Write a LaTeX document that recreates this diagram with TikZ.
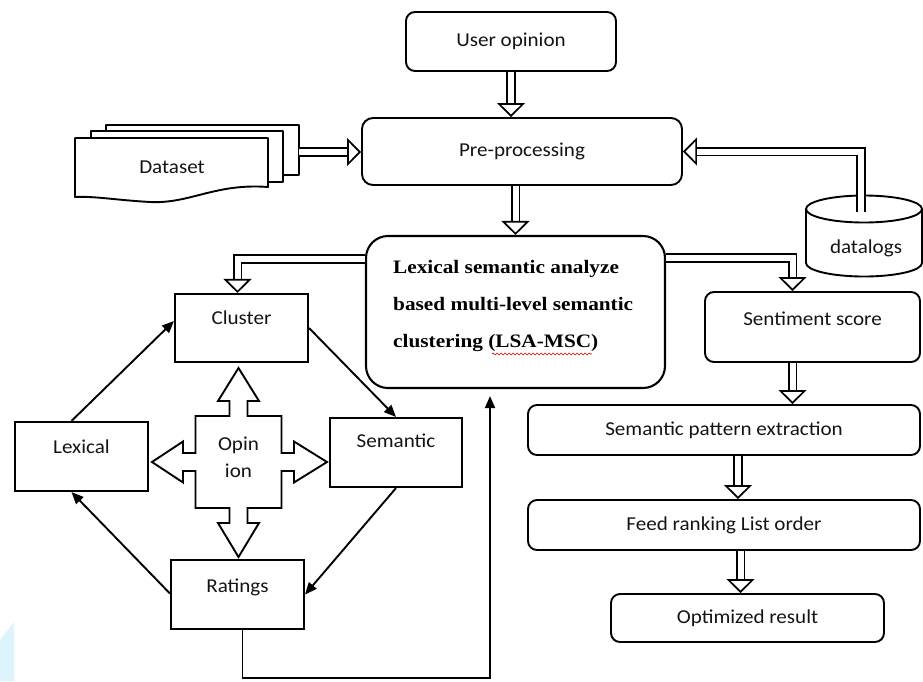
\documentclass[tikz,border=0pt]{standalone}
\usepackage{fontspec}
\setmainfont{Carlito}[FakeStretch=1.07]
\newfontfamily\lsafont{Liberation Serif}[FakeStretch=1.12]
\usetikzlibrary{arrows.meta,calc,decorations.pathmorphing}
\definecolor{wmblue}{RGB}{220,244,250}
\newcommand\rs[2]{\raisebox{#1}[0pt][0pt]{#2}}
\begin{document}
\begin{tikzpicture}[x=1pt,y=-1pt,
  every node/.style={font=\fontsize{19.7}{24}\selectfont, text=black!92},
  rbox/.style={draw, line width=1.9pt, rounded corners=9pt, inner sep=0pt},
  rect/.style={draw, line width=2.1pt, inner sep=0pt},
  conn/.style={line width=1.9pt, -{Triangle[length=12pt,width=10pt]}},
  hollow/.style={draw, line width=1.7pt, double, double distance=6pt, line join=miter,
    -{Triangle[length=14pt,width=28pt,fill=white,line width=1.7pt]}},
  shapeline/.style={draw, line width=1.9pt, fill=white, line join=round},
]
\useasboundingbox (0,0) rectangle (923,681);
% watermark remnant
\fill[wmblue] (0,640) -- (14,622) -- (14,681) -- (0,681) -- cycle;

% top boxes
\node[rbox, minimum width=210pt, minimum height=59pt] (uo) at (511,41.5) {User opinion};
\node[rbox, minimum width=320pt, minimum height=67pt, rounded corners=11pt] (pre) at (522,151.5) {Pre-processing};

% dataset (multi-document)
\draw[shapeline] (106,125) -- (299,125) -- (299,175) -- (106,175) -- cycle;
\draw[shapeline] (91,131) -- (283,131) -- (283,182) -- (91,182) -- cycle;
\draw[shapeline] (75,138) -- (268,138) -- (268,187)
  .. controls (215,183) and (190,204) .. (150,202)
  .. controls (115,200) and (95,196) .. (75,197) -- cycle;
\node (ds) at (172,167) {Dataset};
\coordinate (dsr) at (299,152);

% datalogs cylinder
\draw[shapeline] (806,209) -- (806,263) arc[start angle=180, end angle=0, x radius=58, y radius=13.5] -- (922,209);
\draw[shapeline] (864,209) ellipse [x radius=58, y radius=13.5];
\node (dl) at (866,248) {datalogs};
\coordinate (dltop) at (861,212);

% central LSA-MSC box
\node[draw, line width=2.1pt, rounded corners=22pt, minimum width=299pt, minimum height=152pt] (lsa) at (515.5,312) {};
\node[anchor=north west, inner sep=0pt, align=left, text=black,
  font=\lsafont\bfseries\fontsize{19}{37}\selectfont] (lsatext) at (393,260.5)
  {Lexical semantic analyze\\based multi-level semantic\\clustering (LSA-MSC)};
\draw[red!80!black, line width=0.6pt, decorate, decoration={snake, amplitude=1pt, segment length=4pt}] (492,354) -- (592,354);

% left cycle boxes
\node[rect, minimum width=133pt, minimum height=68pt] (cl) at (241.5,328) {\rs{3.5pt}{Cluster}};
\node[rect, minimum width=133pt, minimum height=69pt] (lex) at (81.5,456.5) {\rs{3.5pt}{Lexical}};
\node[rect, minimum width=132pt, minimum height=69pt] (sem) at (396,452.5) {\rs{5pt}{Semantic}};
\node[rect, minimum width=133pt, minimum height=69pt] (rat) at (237.5,594.5) {\rs{2.5pt}{Ratings}};

% opinion quad arrow
\begin{scope}[shift={(238.5,462)}]
\draw[shapeline, line join=miter]
  (0,-94) -- (20.5,-61) -- (9,-61) -- (9,-46) -- (43,-46) -- (43,-9) -- (55.5,-9) -- (55.5,-20.5)
  -- (88.5,0) -- (55.5,20.5) -- (55.5,9) -- (43,9) -- (43,46) -- (9,46) -- (9,61) -- (20.5,61)
  -- (0,95) -- (-20.5,61) -- (-9,61) -- (-9,46) -- (-43,46) -- (-43,9) -- (-55.5,9) -- (-55.5,20.5)
  -- (-86.5,0) -- (-55.5,-20.5) -- (-55.5,-9) -- (-43,-9) -- (-43,-46) -- (-9,-46) -- (-9,-61) -- (-20.5,-61) -- cycle;
\end{scope}
\node[align=center, font=\fontsize{19.7}{27}\selectfont] (op) at (238.5,457) {Opin\\ion};

% right column
\node[rbox, minimum width=215pt, minimum height=70pt] (ss) at (812.5,327) {\rs{2pt}{Sentiment score}};
\node[rbox, minimum width=392pt, minimum height=50pt] (spe) at (724,430) {Semantic pattern extraction};
\node[rbox, minimum width=392pt, minimum height=50pt] (frl) at (724,525) {Feed ranking List order};
\node[rbox, minimum width=273pt, minimum height=48pt] (opt) at (747.5,618) {Optimized result};

% hollow (double) arrows
\draw[hollow] (uo.south) -- (uo.south |- pre.north);
\draw[hollow] (dsr) -- (dsr -| pre.west);
\draw[hollow] (dltop) |- (pre.east);
\draw[hollow] (lsa.north |- pre.south) -- (lsa.north);
\draw[hollow] ([yshift=53pt]lsa.west) -| ([xshift=-4pt]cl.north);
\draw[hollow] ([yshift=54pt]lsa.east) -| ([xshift=-20pt]ss.north);
\draw[hollow] ([xshift=-20pt]ss.south) -- ([xshift=-20pt]ss.south |- spe.north);
\draw[hollow] ([xshift=14pt]spe.south) -- ([xshift=14pt]spe.south |- frl.north);
\draw[hollow] ([xshift=-7pt]opt.north |- frl.south) -- ([xshift=-7pt]opt.north);

% thin connectors
\draw[conn] ([xshift=-10pt]lex.north) -- ([yshift=7pt]cl.west);
\draw[conn] (cl.east) -- (sem.north);
\draw[conn] (sem.south) -- (rat.east);
\draw[conn] ([yshift=1pt]rat.west) -- ([xshift=-10pt]lex.south);
\coordinate (lp) at (490,678);
\draw[conn, shorten >=7pt] ([xshift=5pt]rat.south) |- (lp) -- (lp |- lsa.south);
\end{tikzpicture}
\end{document}
